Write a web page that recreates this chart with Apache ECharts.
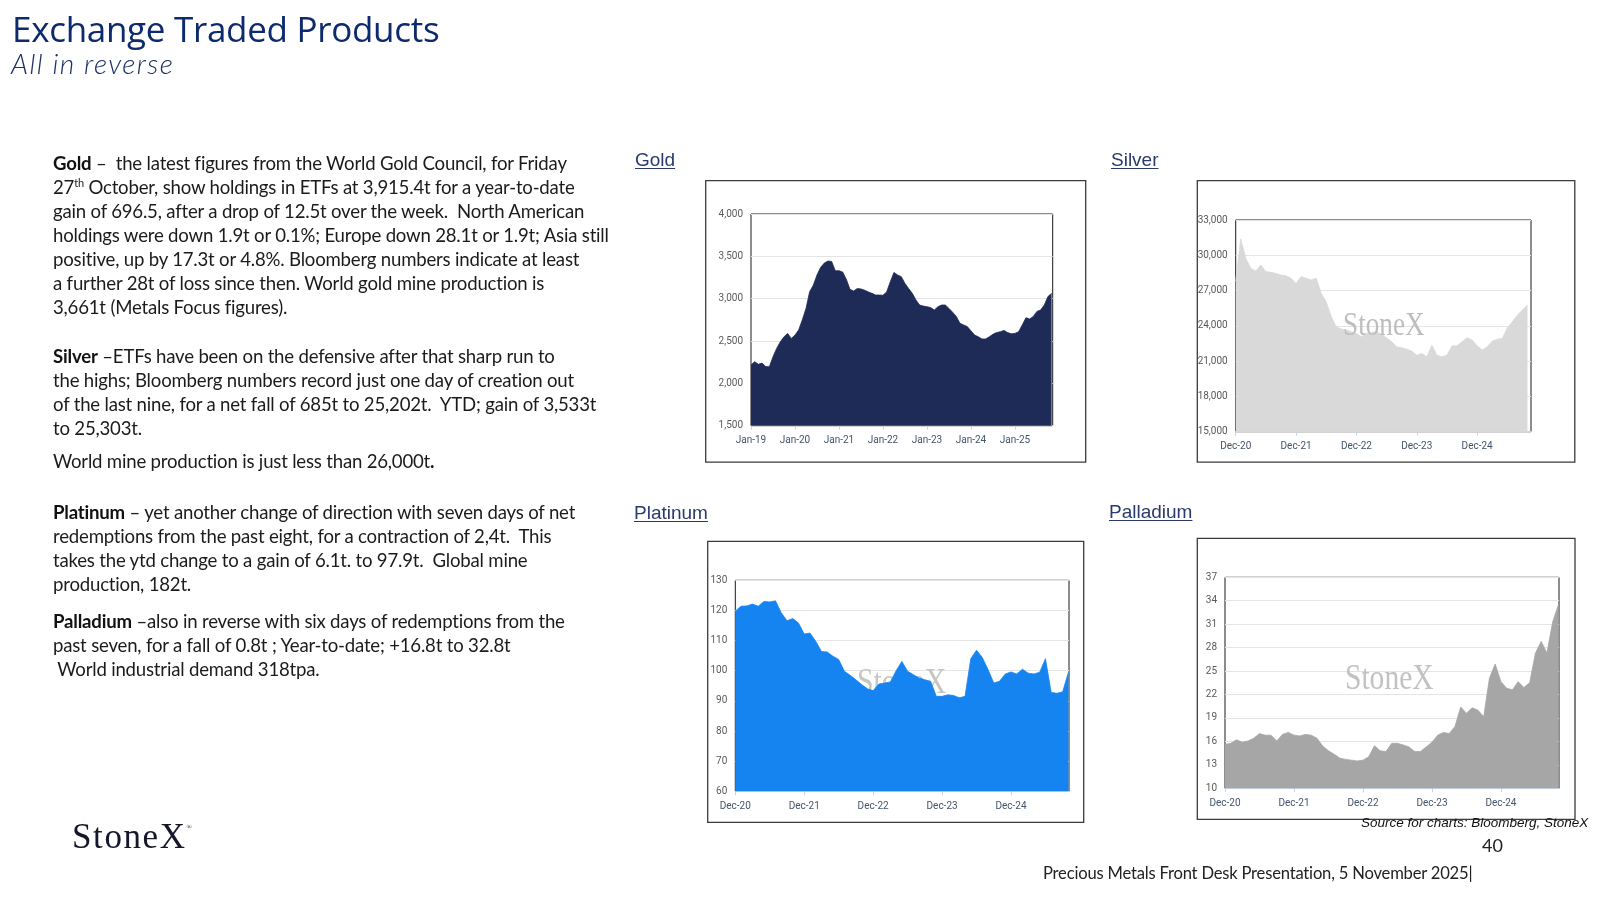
<!DOCTYPE html>
<html>
<head>
<meta charset="utf-8">
<script src="https://cdn.jsdelivr.net/npm/echarts@6/dist/echarts.min.js"></script>
<style>
html,body{margin:0;padding:0;width:1600px;height:900px;background:#fff;overflow:hidden}
#chart{position:absolute;left:0;top:0;width:1600px;height:900px}
.t{position:absolute;white-space:pre;pointer-events:none;z-index:5}
.title{left:12px;top:5px;font-family:"Open Sans",sans-serif;font-size:35px;color:#0d2a6e;letter-spacing:-0.3px}
.sub{left:11px;top:46px;font-family:"Lato",sans-serif;font-style:italic;font-weight:300;font-size:28px;color:#1d3166;letter-spacing:1.4px}
.body{left:53px;font-family:"Lato",sans-serif;font-size:18.6px;line-height:24px;color:#1b1b1b;letter-spacing:-0.2px}
.body b{font-weight:700;color:#111}
.lab{font-family:"Liberation Sans",Arial,sans-serif;font-size:19px;color:#2b3a6c;text-decoration:underline;text-decoration-thickness:1px;text-underline-offset:2px}
.logo{left:72px;top:817px;font-family:"Liberation Serif",serif;font-size:35px;color:#14162a;letter-spacing:1.6px}
.logo sup{font-size:7px;letter-spacing:0;vertical-align:top;position:relative;top:6px}
.src{left:1361px;top:815px;font-family:"Liberation Sans",Arial,sans-serif;font-style:italic;font-size:13.5px;color:#111}
.pg{left:1482px;top:834px;font-family:"Lato",sans-serif;font-size:18px;color:#222}
.foot{left:1043px;top:863px;font-family:"Lato",sans-serif;font-size:16.6px;color:#222;letter-spacing:-0.2px}
</style>
</head>
<body>
<div id="chart"></div>

<div class="t title">Exchange Traded Products</div>
<div class="t sub">All in reverse</div>

<div class="t body" style="top:151px"><b>Gold</b> –  the latest figures from the World Gold Council, for Friday
27<sup style="font-size:11px;line-height:0">th</sup> October, show holdings in ETFs at 3,915.4t for a year-to-date
gain of 696.5, after a drop of 12.5t over the week.  North American
holdings were down 1.9t or 0.1%; Europe down 28.1t or 1.9t; Asia still
positive, up by 17.3t or 4.8%. Bloomberg numbers indicate at least
a further 28t of loss since then. World gold mine production is
3,661t (Metals Focus figures).</div>

<div class="t body" style="top:344px"><b>Silver</b> –ETFs have been on the defensive after that sharp run to
the highs; Bloomberg numbers record just one day of creation out
of the last nine, for a net fall of 685t to 25,202t.  YTD; gain of 3,533t
to 25,303t.</div>
<div class="t body" style="top:449px">World mine production is just less than 26,000t<b>.</b></div>

<div class="t body" style="top:500px"><b>Platinum</b> – yet another change of direction with seven days of net
redemptions from the past eight, for a contraction of 2,4t.  This
takes the ytd change to a gain of 6.1t. to 97.9t.  Global mine
production, 182t.</div>

<div class="t body" style="top:609px"><b>Palladium</b> –also in reverse with six days of redemptions from the
past seven, for a fall of 0.8t ; Year-to-date; +16.8t to 32.8t
 World industrial demand 318tpa.</div>

<div class="t lab" style="left:635px;top:149px">Gold</div>
<div class="t lab" style="left:1111px;top:149px">Silver</div>
<div class="t lab" style="left:634px;top:502px">Platinum</div>
<div class="t lab" style="left:1109px;top:501px">Palladium</div>

<div class="t logo">StoneX<sup>®</sup></div>
<div class="t src">Source for charts: Bloomberg, StoneX</div>
<div class="t pg">40</div>
<div class="t foot">Precious Metals Front Desk Presentation, 5 November 2025|</div>

<script>
// ---- Tick labels ----
const goldTicks = ['Jan-19','Jan-20','Jan-21','Jan-22','Jan-23','Jan-24','Jan-25'];
const decTicks = ['Dec-20','Dec-21','Dec-22','Dec-23','Dec-24'];

// ---- Gold ETF holdings (t), monthly from Jan-19 ----
const goldValues = [
  2217, 2256, 2225, 2240, 2200, 2195, 2315, 2413, 2490, 2550, 2590, 2530,
  2570, 2630, 2750, 2885, 3083, 3160, 3280, 3370, 3420, 3445, 3440, 3330,
  3330, 3315, 3230, 3110, 3090, 3120, 3115, 3100, 3080, 3063, 3043, 3043,
  3040, 3080, 3200, 3310, 3280, 3260, 3180, 3120, 3063, 2985, 2925, 2913,
  2905, 2895, 2866, 2905, 2925, 2925, 2885, 2840, 2790, 2710, 2690, 2670,
  2620, 2570, 2550, 2524, 2524, 2550, 2580, 2600, 2610, 2625, 2600, 2585,
  2590, 2610, 2690, 2775, 2760, 2790, 2850, 2866, 2925, 3025, 3063
];

// ---- Silver ETF holdings (t), monthly from Dec-20 ----
const silverValues = [
  27800, 31400, 29740, 28890, 28660, 29170, 28600, 28550, 28460, 28320, 28260, 28040,
  27610, 28180, 28040, 27900, 28040, 26760, 26050, 24780, 23920, 23730, 23640, 23500,
  23360, 23070, 23360, 23440, 23500, 23270, 22990, 22650, 22220, 22140, 22020, 21850,
  21510, 21650, 21370, 22360, 21510, 21370, 21510, 22300, 22300, 22650, 22990, 22790,
  22300, 21940, 22220, 22700, 22870, 22930, 23840, 24350, 24920, 25340, 25770
];

// ---- Platinum ETF holdings (t), monthly from Dec-20 ----
const platinumValues = [
  119.7, 121.4, 121.5, 122.1, 121.4, 123.0, 122.8, 123.2, 119.2, 116.6, 117.3, 115.8,
  112.2, 112.5, 109.8, 106.4, 106.2, 104.8, 103.7, 99.8, 98.5, 97.0, 95.4, 94.0,
  93.4, 95.6, 95.9, 96.3, 100.0, 103.1, 99.8, 98.7, 97.6, 97.0, 96.5, 91.5,
  91.5, 92.0, 91.8, 91.0, 91.5, 104.0, 106.8, 104.4, 100.4, 95.9, 96.5, 98.9,
  99.6, 98.9, 100.5, 99.2, 98.9, 99.5, 104.0, 92.8, 92.5, 93.0, 99.5
];

// ---- Palladium ETF holdings (t), monthly from Dec-20 ----
const palladiumValues = [
  15.6, 15.75, 16.2, 15.9, 16.05, 16.4, 17.0, 16.8, 16.8, 16.05, 16.9, 17.15,
  16.8, 16.7, 16.9, 16.8, 16.4, 15.4, 14.8, 14.35, 13.85, 13.7, 13.6, 13.5,
  13.6, 14.05, 15.45, 14.8, 14.7, 15.75, 15.75, 15.55, 15.3, 14.7, 14.7, 15.3,
  15.9, 16.8, 17.15, 17.0, 17.9, 20.4, 19.6, 20.3, 20.0, 19.15, 24.1, 25.9,
  23.65, 22.8, 22.6, 23.65, 22.9, 23.5, 27.3, 28.8, 27.3, 31.3, 33.5
];

const chart = echarts.init(document.getElementById('chart'), null, {renderer: 'canvas'});
const LBL_FONT = 'Roboto, "Liberation Sans", sans-serif';

function grid(left, top, width, height) {
  return {left, top, width, height, containLabel: false, show: true,
          borderColor: '#1a1a1a', borderWidth: 1, backgroundColor: 'transparent'};
}
function xAx(gi, max, ticks) {
  const vals = ticks.map((t, i) => i * 12);
  return {
    type: 'value', gridIndex: gi, min: 0, max: max, interval: 12,
    axisLine: {show: true, onZero: false, lineStyle: {color: '#c7d4e6', width: 1.2}},
    axisTick: {show: true, customValues: vals, length: 4, lineStyle: {color: '#c7d4e6'}},
    axisLabel: {customValues: vals, hideOverlap: false,
      formatter: v => (ticks[Math.round(v / 12)] || ''),
      color: '#44546a', fontSize: 10, margin: 10, fontFamily: LBL_FONT},
    splitLine: {show: false}
  };
}
function yAx(gi, min, max, interval) {
  return {
    type: 'value', gridIndex: gi, min, max, interval,
    axisLine: {show: false}, axisTick: {show: false},
    axisLabel: {color: '#595959', fontSize: 10, margin: 8, fontFamily: LBL_FONT},
    splitLine: {show: true, lineStyle: {color: '#e4e4e4', width: 1}}
  };
}
function ser(gi, values, color) {
  return {
    type: 'line', xAxisIndex: gi, yAxisIndex: gi,
    data: values.map((v, i) => [i, v]),
    showSymbol: false, symbol: 'none', smooth: false,
    lineStyle: {color: color, width: 0.8},
    areaStyle: {color: color, opacity: 1, origin: 'start'},
    silent: true, z: 2
  };
}
function frame(x, y, w, h) {
  return {type: 'rect', shape: {x, y, width: w, height: h}, silent: true, z: 0,
          style: {fill: 'none', stroke: '#3b3b3b', lineWidth: 1.3}};
}
function mark(x, y, size, sx, fill, z) {
  return {type: 'text', x, y, scaleX: sx, silent: true, z,
          style: {text: 'StoneX', font: size + 'px "Liberation Serif", serif', fill, textVerticalAlign: 'top'}};
}

chart.setOption({
  animation: false,
  backgroundColor: 'transparent',
  grid: [
    grid(751, 214, 301.7, 211.7),
    grid(1235.7, 220, 295.3, 211.7),
    grid(735.3, 580.3, 333.7, 211),
    grid(1225, 577.3, 334, 211)
  ],
  xAxis: [
    xAx(0, 82.3, goldTicks),
    xAx(1, 58.7, decTicks),
    xAx(2, 58.1, decTicks),
    xAx(3, 58.1, decTicks)
  ],
  yAxis: [
    yAx(0, 1500, 4000, 500),
    yAx(1, 15000, 33000, 3000),
    yAx(2, 60, 130, 10),
    yAx(3, 10, 37, 3)
  ],
  series: [
    ser(0, goldValues, '#1e2b57'),
    ser(1, silverValues, '#d9d9d9'),
    ser(2, platinumValues, '#1584f0'),
    ser(3, palladiumValues, '#a6a6a6')
  ],
  graphic: [
    frame(705.7, 180.7, 380, 281.5),
    frame(1197.3, 180.7, 377.5, 281.5),
    frame(707.7, 541.3, 376, 281),
    frame(1197.3, 538.3, 377.7, 281),
    mark(1343, 309, 34, 0.8, '#bdbdbd', 10),
    mark(857, 666, 35, 0.85, '#c6c6c6', 1),
    mark(1345, 662, 36, 0.82, '#c2c2c2', 10)
  ]
});
</script>
</body>
</html>
